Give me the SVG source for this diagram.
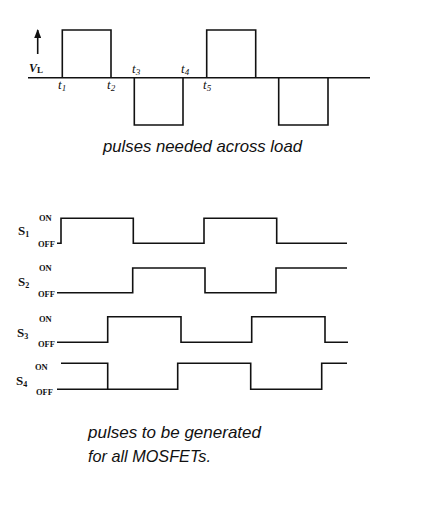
<svg xmlns="http://www.w3.org/2000/svg" width="447" height="508" viewBox="0 0 447 508">
<style>
.w{fill:none;stroke:#111;stroke-width:1.6;stroke-linejoin:miter}
.lbl{font-family:"Liberation Serif",serif;font-weight:bold;fill:#111}
.on{font-family:"Liberation Serif",serif;font-weight:bold;font-size:8.5px;fill:#111}
.t{font-family:"Liberation Serif",serif;font-style:italic;font-size:13px;fill:#111}
.cap{font-family:"Liberation Sans",sans-serif;font-style:italic;font-size:17px;fill:#111}
</style>
<defs>
<marker id="ah" markerWidth="9" markerHeight="7" refX="8" refY="3.5" orient="auto" markerUnits="userSpaceOnUse">
<path d="M0,0 L9,3.5 L0,7 Z" fill="#111"/>
</marker>
</defs>
<rect width="447" height="508" fill="#fff"/>
<g id="vl-waveform">
<line class="w" x1="28" y1="77.7" x2="370" y2="77.7"/>
<path class="w" d="M62.3,77.7 V30 H111 V77.7"/>
<path class="w" d="M134.3,77.7 V125 H183 V77.7"/>
<path class="w" d="M206.7,77.7 V30 H255.7 V77.7"/>
<path class="w" d="M278.7,77.7 V125 H328 V77.7"/>
<line x1="37.7" y1="54" x2="37.7" y2="30" stroke="#111" stroke-width="1.6" marker-end="url(#ah)"/>
<text class="lbl" x="29" y="72" font-size="12" font-style="italic">V<tspan font-size="9" font-style="normal" dy="1">L</tspan></text>
<text class="t" x="58" y="89">t<tspan font-size="9" dy="2">1</tspan></text>
<text class="t" x="107" y="89">t<tspan font-size="9" dy="2">2</tspan></text>
<text class="t" x="132" y="73">t<tspan font-size="9" dy="2">3</tspan></text>
<text class="t" x="181" y="73">t<tspan font-size="9" dy="2">4</tspan></text>
<text class="t" x="203" y="89">t<tspan font-size="9" dy="2">5</tspan></text>
<text class="cap" x="103" y="152" textLength="199" lengthAdjust="spacingAndGlyphs">pulses needed across load</text>
</g>
<g id="s1">
<path class="w" d="M57,243.3 H61 V218.3 H133.3 V243.3 H204 V218.3 H276.7 V243.3 H347"/>
<text class="on" x="39" y="221">ON</text>
<text class="lbl" x="18" y="235" font-size="13">S<tspan font-size="8" dy="2">1</tspan></text>
<text class="on" x="38" y="247">OFF</text>
</g>
<g id="s2">
<path class="w" d="M57,292.7 H132.7 V268 H205 V292.7 H276 V268 H347"/>
<text class="on" x="39" y="271">ON</text>
<text class="lbl" x="18" y="286" font-size="13">S<tspan font-size="8" dy="2">2</tspan></text>
<text class="on" x="38" y="297">OFF</text>
</g>
<g id="s3">
<path class="w" d="M57,342.3 H107.7 V316.7 H181 V342.3 H251.7 V316.7 H325 V342.3 H348"/>
<text class="on" x="39" y="322">ON</text>
<text class="lbl" x="17" y="337" font-size="13">S<tspan font-size="8" dy="2">3</tspan></text>
<text class="on" x="38" y="347">OFF</text>
</g>
<g id="s4">
<path class="w" d="M61,363.3 H107.7 V389.3 H177.7 V363.3 H250.7 V389.3 H321.7 V363.3 H347"/>
<line class="w" x1="57" y1="389.3" x2="107.7" y2="389.3"/>
<text class="on" x="35" y="370">ON</text>
<text class="lbl" x="16" y="385" font-size="13">S<tspan font-size="8" dy="2">4</tspan></text>
<text class="on" x="36" y="395">OFF</text>
</g>
<g id="caption2">
<text class="cap" x="88" y="438" textLength="173" lengthAdjust="spacingAndGlyphs">pulses to be generated</text>
<text class="cap" x="88" y="461.5" textLength="123" lengthAdjust="spacingAndGlyphs">for all MOSFETs.</text>
</g>
</svg>
